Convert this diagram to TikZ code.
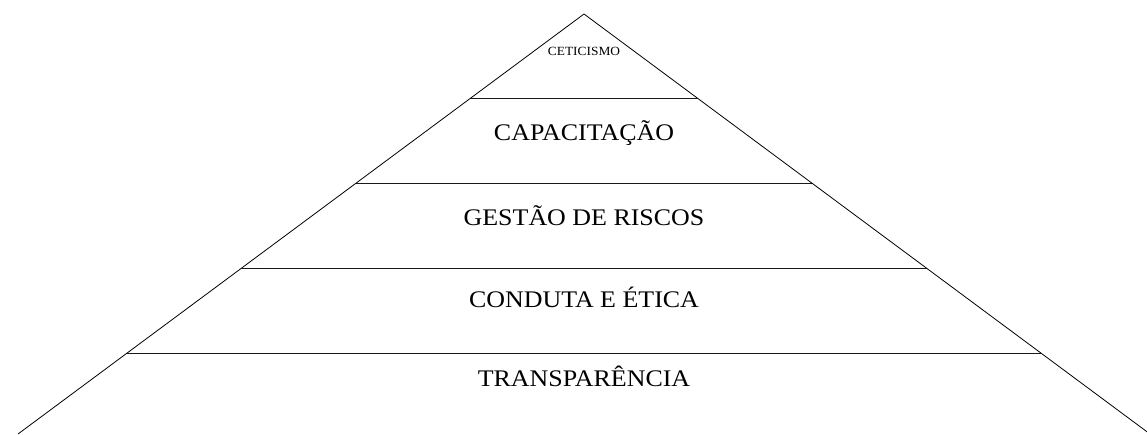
\documentclass[tikz,border=0pt]{standalone}
\usepackage{fontspec}
\setmainfont{Liberation Serif}
\usetikzlibrary{calc}
\tikzset{
  side/.style={line width=0.8pt, black},
  band/.style={line width=1.8pt, black!90},
  big/.style={anchor=base, inner sep=0pt, font=\fontsize{23.8}{28}\selectfont},
  small/.style={anchor=base, inner sep=0pt, font=\fontsize{12.5}{15}\selectfont}
}
\begin{document}
\begin{tikzpicture}[x=1pt,y=-1pt]
\useasboundingbox (0,0) rectangle (1147,434);
\clip (0,0) rectangle (1147,434);
\coordinate (apex) at (584,14);
\coordinate (bl) at (18,434);
\coordinate (br) at (1150,434);
\draw[side] (bl) -- (apex) -- (br);
\foreach \t [count=\i] in {0.2012,0.4036,0.606,0.8083}{
  \coordinate (L\i) at ($(apex)!\t!(bl)$);
  \coordinate (R\i) at ($(apex)!\t!(br)$);
  \draw[band] (L\i) -- (R\i);
}
\node[small] (t0) at (584,55) {\scalebox{1.07}[1]{CETICISMO}};
\node[big] (t1) at (584,140.7) {\scalebox{1.09}[1]{CAPACITAÇÃO}};
\node[big] (t2) at (584,225.7) {\scalebox{1.09}[1]{GESTÃO DE RISCOS}};
\node[big] (t3) at (584,307.3) {\scalebox{1.09}[1]{CONDUTA E ÉTICA}};
\node[big] (t4) at (584,386) {\scalebox{1.09}[1]{TRANSPARÊNCIA}};
\end{tikzpicture}
\end{document}
